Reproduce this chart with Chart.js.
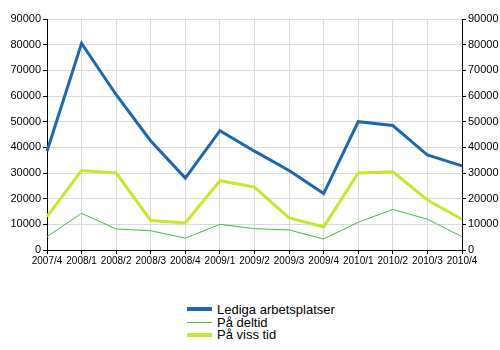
<!DOCTYPE html>
<html>
<head>
<meta charset="utf-8">
<script src="https://cdn.jsdelivr.net/npm/chart.js@4"></script>
<style>
    body { margin: 0; background: #fff; font-family: "Liberation Sans", Arial, sans-serif; }
    #wrap { position: relative; width: 500px; height: 350px; }
    #grafica { position: absolute; left: 0; top: 0; }
    #leyenda { position: absolute; left: 187px; top: 303px; font-size: 13px; color: #000; }
    .fila { height: 12.7px; line-height: 13px; display: flex; align-items: center; white-space: nowrap; }
    .muestra { width: 25px; margin-right: 5px; }
</style>
</head>
<body>
<div id="wrap">
    <canvas id="grafica" width="500" height="275"></canvas>
    <div id="leyenda"></div>
</div>
<script>
// Datos del gráfico
const trimestres = ["2007/4", "2008/1", "2008/2", "2008/3", "2008/4", "2009/1", "2009/2",
    "2009/3", "2009/4", "2010/1", "2010/2", "2010/3", "2010/4"];
const lediga = [38500, 80500, 60500, 42500, 28000, 46500, 38500, 31000, 22000, 50000, 48500, 37000, 32800];
const deltid = [5200, 14300, 8200, 7500, 4600, 10000, 8300, 7800, 4300, 10800, 15800, 12000, 5200];
const vissTid = [13000, 31000, 30000, 11500, 10500, 27000, 24500, 12500, 9000, 30000, 30500, 19500, 12000];
const ticksY = [0, 10000, 20000, 30000, 40000, 50000, 60000, 70000, 80000, 90000];

const fuente = "'Liberation Sans', Arial, sans-serif";

const series = [
    { label: "Lediga arbetsplatser", data: lediga, borderColor: "#1c67b0", borderWidth: 3, grosor: 4 },
    { label: "På deltid", data: deltid, borderColor: "#3fbf3a", borderWidth: 1, grosor: 1 },
    { label: "På viss tid", data: vissTid, borderColor: "#c4e82c", borderWidth: 3, grosor: 4 }
];

function ejeY(posicion, ancho) {
    return {
        position: posicion,
        min: 0,
        max: 90000,
        afterBuildTicks: scale => { scale.ticks = ticksY.map(v => ({ value: v })); },
        afterFit: scale => { scale.width = ancho; },
        border: { color: "#000", width: 1 },
        grid: {
            color: "#d9d9d9",
            tickColor: "#000",
            tickLength: 4,
            drawOnChartArea: posicion === "left"
        },
        ticks: {
            color: "#000",
            padding: 2,
            font: { family: fuente, size: 11 },
            callback: v => String(v)
        }
    };
}

const ctx = document.getElementById("grafica").getContext("2d");
new Chart(ctx, {
    type: "line",
    data: {
        labels: trimestres,
        datasets: series.map(s => ({
            label: s.label,
            data: s.data,
            borderColor: s.borderColor,
            borderWidth: s.borderWidth,
            pointRadius: 0,
            tension: 0,
            fill: false
        }))
    },
    options: {
        responsive: false,
        animation: false,
        layout: { padding: { top: 19, left: 0, right: 0, bottom: 0 } },
        plugins: { legend: { display: false }, tooltip: { enabled: false } },
        scales: {
            x: {
                offset: false,
                afterFit: scale => { scale.height = 25; },
                border: { color: "#000", width: 1 },
                grid: { color: "#d9d9d9", tickColor: "#000", tickLength: 4 },
                ticks: { color: "#000", padding: 1, maxRotation: 0, autoSkip: false, font: { family: fuente, size: 10 } }
            },
            y: ejeY("left", 47),
            y2: ejeY("right", 38)
        }
    }
});

// Leyenda en HTML, una serie por fila
const leyenda = document.getElementById("leyenda");
series.forEach(s => {
    const fila = document.createElement("div");
    fila.className = "fila";
    fila.innerHTML = `<span class="muestra" style="height:${s.grosor}px;background:${s.borderColor}"></span><span>${s.label}</span>`;
    leyenda.appendChild(fila);
});
</script>
</body>
</html>
